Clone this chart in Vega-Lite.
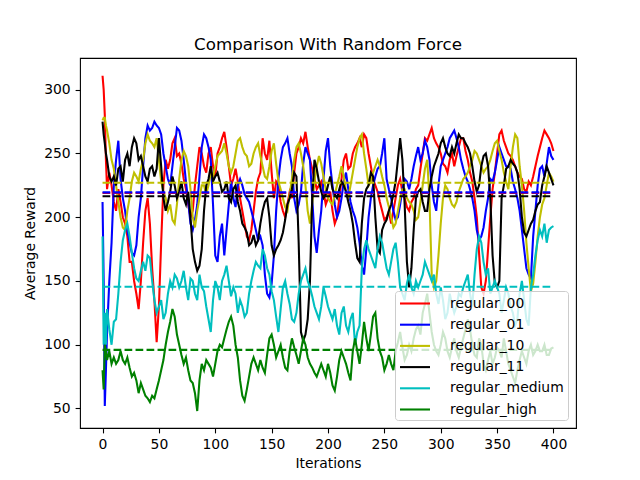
{
  "$schema": "https://vega.github.io/schema/vega-lite/v6.json",
  "width": 496,
  "height": 370,
  "autosize": {"type": "none"},
  "padding": {"left": 80, "top": 58, "right": 64, "bottom": 52},
  "background": "white",
  "title": {
    "text": "Comparison With Random Force",
    "font": "DejaVu Sans",
    "fontSize": 16.7,
    "fontWeight": "normal",
    "color": "black",
    "anchor": "middle",
    "baseline": "alphabetic",
    "offset": 8,
    "dy": 17
  },
  "config": {
    "font": "DejaVu Sans",
    "view": {"stroke": "black", "strokeWidth": 1.1},
    "axis": {
      "domain": false,
      "grid": false,
      "tickColor": "black",
      "tickSize": 4.9,
      "tickWidth": 1.1,
      "labelFont": "DejaVu Sans",
      "labelFontSize": 13.9,
      "labelColor": "black",
      "labelPadding": 4.9,
      "labelFlush": false,
      "labelOverlap": false,
      "titleFont": "DejaVu Sans",
      "titleFontSize": 13.9,
      "titleFontWeight": "normal",
      "titleColor": "black"
    }
  },
  "datasets": {
    "runs": [
      {"i": 0, "regular_00": 311, "regular_01": 212, "regular_10": 276, "regular_11": 275, "regular_medium": 185, "regular_high": 80},
      {"i": 1, "regular_00": 300, "regular_01": 150, "regular_10": 278, "regular_11": 265, "regular_medium": 100, "regular_high": 65},
      {"i": 2, "regular_00": 280, "regular_01": 52, "regular_10": 278, "regular_11": 258, "regular_medium": 125, "regular_high": 100},
      {"i": 3, "regular_00": 245, "regular_01": 80, "regular_10": 272, "regular_11": 250, "regular_medium": 100, "regular_high": 95},
      {"i": 4, "regular_00": 222, "regular_01": 110, "regular_10": 268, "regular_11": 245, "regular_medium": 128, "regular_high": 88},
      {"i": 6, "regular_00": 235, "regular_01": 150, "regular_10": 258, "regular_11": 232, "regular_medium": 112, "regular_high": 95},
      {"i": 8, "regular_00": 225, "regular_01": 180, "regular_10": 245, "regular_11": 228, "regular_medium": 100, "regular_high": 85},
      {"i": 10, "regular_00": 212, "regular_01": 225, "regular_10": 238, "regular_11": 232, "regular_medium": 118, "regular_high": 90},
      {"i": 12, "regular_00": 205, "regular_01": 245, "regular_10": 225, "regular_11": 225, "regular_medium": 120, "regular_high": 85},
      {"i": 14, "regular_00": 222, "regular_01": 260, "regular_10": 212, "regular_11": 238, "regular_medium": 140, "regular_high": 88},
      {"i": 16, "regular_00": 212, "regular_01": 230, "regular_10": 200, "regular_11": 240, "regular_medium": 165, "regular_high": 95},
      {"i": 18, "regular_00": 200, "regular_01": 215, "regular_10": 192, "regular_11": 228, "regular_medium": 182, "regular_high": 88},
      {"i": 20, "regular_00": 195, "regular_01": 205, "regular_10": 190, "regular_11": 245, "regular_medium": 190, "regular_high": 85},
      {"i": 22, "regular_00": 185, "regular_01": 190, "regular_10": 205, "regular_11": 250, "regular_medium": 195, "regular_high": 90},
      {"i": 24, "regular_00": 165, "regular_01": 180, "regular_10": 215, "regular_11": 240, "regular_medium": 185, "regular_high": 82},
      {"i": 26, "regular_00": 165, "regular_01": 172, "regular_10": 228, "regular_11": 255, "regular_medium": 172, "regular_high": 75},
      {"i": 28, "regular_00": 150, "regular_01": 170, "regular_10": 235, "regular_11": 262, "regular_medium": 160, "regular_high": 78},
      {"i": 30, "regular_00": 140, "regular_01": 178, "regular_10": 232, "regular_11": 258, "regular_medium": 152, "regular_high": 72},
      {"i": 32, "regular_00": 128, "regular_01": 200, "regular_10": 228, "regular_11": 245, "regular_medium": 150, "regular_high": 62},
      {"i": 34, "regular_00": 150, "regular_01": 215, "regular_10": 238, "regular_11": 248, "regular_medium": 158, "regular_high": 70},
      {"i": 36, "regular_00": 180, "regular_01": 240, "regular_10": 245, "regular_11": 240, "regular_medium": 165, "regular_high": 65},
      {"i": 38, "regular_00": 205, "regular_01": 262, "regular_10": 258, "regular_11": 232, "regular_medium": 158, "regular_high": 60},
      {"i": 40, "regular_00": 215, "regular_01": 272, "regular_10": 265, "regular_11": 228, "regular_medium": 170, "regular_high": 58},
      {"i": 42, "regular_00": 195, "regular_01": 268, "regular_10": 260, "regular_11": 238, "regular_medium": 168, "regular_high": 55},
      {"i": 44, "regular_00": 160, "regular_01": 270, "regular_10": 258, "regular_11": 240, "regular_medium": 150, "regular_high": 60},
      {"i": 46, "regular_00": 135, "regular_01": 275, "regular_10": 255, "regular_11": 232, "regular_medium": 135, "regular_high": 58},
      {"i": 48, "regular_00": 102, "regular_01": 272, "regular_10": 262, "regular_11": 238, "regular_medium": 125, "regular_high": 65},
      {"i": 50, "regular_00": 130, "regular_01": 270, "regular_10": 245, "regular_11": 262, "regular_medium": 130, "regular_high": 72},
      {"i": 52, "regular_00": 180, "regular_01": 265, "regular_10": 228, "regular_11": 240, "regular_medium": 135, "regular_high": 80},
      {"i": 54, "regular_00": 225, "regular_01": 250, "regular_10": 220, "regular_11": 215, "regular_medium": 120, "regular_high": 88},
      {"i": 56, "regular_00": 245, "regular_01": 240, "regular_10": 215, "regular_11": 205, "regular_medium": 125, "regular_high": 100},
      {"i": 58, "regular_00": 238, "regular_01": 230, "regular_10": 205, "regular_11": 212, "regular_medium": 140, "regular_high": 110},
      {"i": 60, "regular_00": 245, "regular_01": 225, "regular_10": 210, "regular_11": 220, "regular_medium": 150, "regular_high": 118},
      {"i": 62, "regular_00": 258, "regular_01": 240, "regular_10": 198, "regular_11": 232, "regular_medium": 145, "regular_high": 128},
      {"i": 64, "regular_00": 262, "regular_01": 255, "regular_10": 195, "regular_11": 225, "regular_medium": 155, "regular_high": 122},
      {"i": 66, "regular_00": 248, "regular_01": 270, "regular_10": 210, "regular_11": 215, "regular_medium": 152, "regular_high": 108},
      {"i": 68, "regular_00": 250, "regular_01": 268, "regular_10": 230, "regular_11": 220, "regular_medium": 145, "regular_high": 100},
      {"i": 70, "regular_00": 242, "regular_01": 260, "regular_10": 245, "regular_11": 228, "regular_medium": 150, "regular_high": 92},
      {"i": 72, "regular_00": 230, "regular_01": 245, "regular_10": 252, "regular_11": 215, "regular_medium": 158, "regular_high": 85},
      {"i": 74, "regular_00": 222, "regular_01": 228, "regular_10": 248, "regular_11": 210, "regular_medium": 145, "regular_high": 90},
      {"i": 76, "regular_00": 210, "regular_01": 212, "regular_10": 240, "regular_11": 220, "regular_medium": 135, "regular_high": 80},
      {"i": 78, "regular_00": 200, "regular_01": 195, "regular_10": 222, "regular_11": 200, "regular_medium": 152, "regular_high": 72},
      {"i": 80, "regular_00": 205, "regular_01": 190, "regular_10": 200, "regular_11": 175, "regular_medium": 150, "regular_high": 70},
      {"i": 82, "regular_00": 225, "regular_01": 198, "regular_10": 192, "regular_11": 165, "regular_medium": 140, "regular_high": 62},
      {"i": 84, "regular_00": 240, "regular_01": 210, "regular_10": 205, "regular_11": 158, "regular_medium": 135, "regular_high": 48},
      {"i": 86, "regular_00": 255, "regular_01": 232, "regular_10": 215, "regular_11": 162, "regular_medium": 155, "regular_high": 72},
      {"i": 88, "regular_00": 250, "regular_01": 255, "regular_10": 225, "regular_11": 175, "regular_medium": 145, "regular_high": 85},
      {"i": 90, "regular_00": 240, "regular_01": 265, "regular_10": 225, "regular_11": 205, "regular_medium": 142, "regular_high": 80},
      {"i": 92, "regular_00": 235, "regular_01": 262, "regular_10": 218, "regular_11": 225, "regular_medium": 130, "regular_high": 88},
      {"i": 94, "regular_00": 250, "regular_01": 255, "regular_10": 225, "regular_11": 230, "regular_medium": 120, "regular_high": 85},
      {"i": 96, "regular_00": 255, "regular_01": 245, "regular_10": 235, "regular_11": 240, "regular_medium": 110, "regular_high": 82},
      {"i": 98, "regular_00": 240, "regular_01": 210, "regular_10": 232, "regular_11": 228, "regular_medium": 135, "regular_high": 75},
      {"i": 100, "regular_00": 232, "regular_01": 170, "regular_10": 240, "regular_11": 232, "regular_medium": 150, "regular_high": 85},
      {"i": 102, "regular_00": 250, "regular_01": 165, "regular_10": 248, "regular_11": 235, "regular_medium": 145, "regular_high": 95},
      {"i": 104, "regular_00": 255, "regular_01": 185, "regular_10": 250, "regular_11": 228, "regular_medium": 135, "regular_high": 100},
      {"i": 106, "regular_00": 262, "regular_01": 195, "regular_10": 252, "regular_11": 220, "regular_medium": 150, "regular_high": 98},
      {"i": 108, "regular_00": 267, "regular_01": 170, "regular_10": 258, "regular_11": 222, "regular_medium": 155, "regular_high": 105},
      {"i": 110, "regular_00": 255, "regular_01": 190, "regular_10": 250, "regular_11": 228, "regular_medium": 162, "regular_high": 112},
      {"i": 112, "regular_00": 240, "regular_01": 210, "regular_10": 240, "regular_11": 215, "regular_medium": 150, "regular_high": 118},
      {"i": 114, "regular_00": 225, "regular_01": 228, "regular_10": 235, "regular_11": 212, "regular_medium": 138, "regular_high": 122},
      {"i": 116, "regular_00": 230, "regular_01": 215, "regular_10": 240, "regular_11": 222, "regular_medium": 145, "regular_high": 115},
      {"i": 118, "regular_00": 238, "regular_01": 208, "regular_10": 250, "regular_11": 225, "regular_medium": 140, "regular_high": 100},
      {"i": 120, "regular_00": 228, "regular_01": 225, "regular_10": 260, "regular_11": 212, "regular_medium": 125, "regular_high": 90},
      {"i": 122, "regular_00": 215, "regular_01": 230, "regular_10": 262, "regular_11": 205, "regular_medium": 135, "regular_high": 72},
      {"i": 124, "regular_00": 205, "regular_01": 225, "regular_10": 255, "regular_11": 195, "regular_medium": 130, "regular_high": 60},
      {"i": 126, "regular_00": 195, "regular_01": 218, "regular_10": 250, "regular_11": 192, "regular_medium": 122, "regular_high": 56},
      {"i": 128, "regular_00": 185, "regular_01": 215, "regular_10": 248, "regular_11": 188, "regular_medium": 125, "regular_high": 65},
      {"i": 130, "regular_00": 182, "regular_01": 212, "regular_10": 240, "regular_11": 178, "regular_medium": 140, "regular_high": 75},
      {"i": 132, "regular_00": 190, "regular_01": 205, "regular_10": 242, "regular_11": 180, "regular_medium": 150, "regular_high": 85},
      {"i": 134, "regular_00": 205, "regular_01": 198, "regular_10": 250, "regular_11": 186, "regular_medium": 158, "regular_high": 90},
      {"i": 136, "regular_00": 220, "regular_01": 190, "regular_10": 255, "regular_11": 178, "regular_medium": 165, "regular_high": 85},
      {"i": 138, "regular_00": 230, "regular_01": 182, "regular_10": 258, "regular_11": 182, "regular_medium": 162, "regular_high": 80},
      {"i": 140, "regular_00": 235, "regular_01": 185, "regular_10": 248, "regular_11": 195, "regular_medium": 160, "regular_high": 88},
      {"i": 142, "regular_00": 262, "regular_01": 178, "regular_10": 240, "regular_11": 205, "regular_medium": 175, "regular_high": 82},
      {"i": 144, "regular_00": 250, "regular_01": 155, "regular_10": 232, "regular_11": 212, "regular_medium": 170, "regular_high": 78},
      {"i": 146, "regular_00": 245, "regular_01": 140, "regular_10": 230, "regular_11": 215, "regular_medium": 160, "regular_high": 92},
      {"i": 148, "regular_00": 260, "regular_01": 137, "regular_10": 240, "regular_11": 200, "regular_medium": 155, "regular_high": 105},
      {"i": 150, "regular_00": 235, "regular_01": 148, "regular_10": 252, "regular_11": 178, "regular_medium": 142, "regular_high": 108},
      {"i": 152, "regular_00": 215, "regular_01": 170, "regular_10": 258, "regular_11": 170, "regular_medium": 135, "regular_high": 100},
      {"i": 154, "regular_00": 228, "regular_01": 205, "regular_10": 242, "regular_11": 175, "regular_medium": 122, "regular_high": 90},
      {"i": 156, "regular_00": 225, "regular_01": 230, "regular_10": 228, "regular_11": 178, "regular_medium": 110, "regular_high": 95},
      {"i": 158, "regular_00": 212, "regular_01": 245, "regular_10": 222, "regular_11": 182, "regular_medium": 128, "regular_high": 100},
      {"i": 160, "regular_00": 205, "regular_01": 255, "regular_10": 215, "regular_11": 188, "regular_medium": 145, "regular_high": 90},
      {"i": 162, "regular_00": 200, "regular_01": 258, "regular_10": 208, "regular_11": 198, "regular_medium": 150, "regular_high": 82},
      {"i": 164, "regular_00": 210, "regular_01": 262, "regular_10": 205, "regular_11": 210, "regular_medium": 140, "regular_high": 80},
      {"i": 166, "regular_00": 220, "regular_01": 250, "regular_10": 218, "regular_11": 215, "regular_medium": 132, "regular_high": 95},
      {"i": 168, "regular_00": 215, "regular_01": 240, "regular_10": 230, "regular_11": 222, "regular_medium": 120, "regular_high": 105},
      {"i": 170, "regular_00": 235, "regular_01": 215, "regular_10": 245, "regular_11": 235, "regular_medium": 118, "regular_high": 98},
      {"i": 172, "regular_00": 250, "regular_01": 205, "regular_10": 255, "regular_11": 232, "regular_medium": 125, "regular_high": 92},
      {"i": 174, "regular_00": 255, "regular_01": 210, "regular_10": 258, "regular_11": 180, "regular_medium": 140, "regular_high": 85},
      {"i": 176, "regular_00": 262, "regular_01": 220, "regular_10": 250, "regular_11": 110, "regular_medium": 150, "regular_high": 95},
      {"i": 178, "regular_00": 258, "regular_01": 242, "regular_10": 240, "regular_11": 103, "regular_medium": 155, "regular_high": 105},
      {"i": 180, "regular_00": 267, "regular_01": 255, "regular_10": 225, "regular_11": 108, "regular_medium": 160, "regular_high": 100},
      {"i": 182, "regular_00": 255, "regular_01": 250, "regular_10": 205, "regular_11": 120, "regular_medium": 150, "regular_high": 90},
      {"i": 184, "regular_00": 245, "regular_01": 245, "regular_10": 195, "regular_11": 150, "regular_medium": 145, "regular_high": 85},
      {"i": 186, "regular_00": 238, "regular_01": 215, "regular_10": 210, "regular_11": 215, "regular_medium": 138, "regular_high": 82},
      {"i": 188, "regular_00": 230, "regular_01": 185, "regular_10": 228, "regular_11": 245, "regular_medium": 130, "regular_high": 78},
      {"i": 190, "regular_00": 222, "regular_01": 172, "regular_10": 240, "regular_11": 238, "regular_medium": 125, "regular_high": 75},
      {"i": 192, "regular_00": 225, "regular_01": 190, "regular_10": 248, "regular_11": 228, "regular_medium": 120, "regular_high": 80},
      {"i": 194, "regular_00": 228, "regular_01": 205, "regular_10": 242, "regular_11": 220, "regular_medium": 130, "regular_high": 85},
      {"i": 196, "regular_00": 220, "regular_01": 230, "regular_10": 232, "regular_11": 215, "regular_medium": 145, "regular_high": 80},
      {"i": 198, "regular_00": 210, "regular_01": 252, "regular_10": 222, "regular_11": 218, "regular_medium": 138, "regular_high": 75},
      {"i": 200, "regular_00": 215, "regular_01": 262, "regular_10": 215, "regular_11": 225, "regular_medium": 130, "regular_high": 85},
      {"i": 202, "regular_00": 220, "regular_01": 240, "regular_10": 212, "regular_11": 232, "regular_medium": 125, "regular_high": 78},
      {"i": 204, "regular_00": 205, "regular_01": 225, "regular_10": 210, "regular_11": 222, "regular_medium": 120, "regular_high": 68},
      {"i": 206, "regular_00": 195, "regular_01": 210, "regular_10": 218, "regular_11": 218, "regular_medium": 128, "regular_high": 64},
      {"i": 208, "regular_00": 200, "regular_01": 200, "regular_10": 225, "regular_11": 215, "regular_medium": 115, "regular_high": 75},
      {"i": 210, "regular_00": 215, "regular_01": 205, "regular_10": 232, "regular_11": 222, "regular_medium": 108, "regular_high": 88},
      {"i": 212, "regular_00": 230, "regular_01": 215, "regular_10": 240, "regular_11": 228, "regular_medium": 125, "regular_high": 95},
      {"i": 214, "regular_00": 245, "regular_01": 228, "regular_10": 232, "regular_11": 225, "regular_medium": 130, "regular_high": 90},
      {"i": 216, "regular_00": 250, "regular_01": 235, "regular_10": 220, "regular_11": 220, "regular_medium": 115, "regular_high": 85},
      {"i": 218, "regular_00": 238, "regular_01": 222, "regular_10": 215, "regular_11": 212, "regular_medium": 110, "regular_high": 78},
      {"i": 220, "regular_00": 240, "regular_01": 212, "regular_10": 225, "regular_11": 205, "regular_medium": 120, "regular_high": 72},
      {"i": 222, "regular_00": 250, "regular_01": 205, "regular_10": 235, "regular_11": 195, "regular_medium": 125, "regular_high": 95},
      {"i": 224, "regular_00": 255, "regular_01": 200, "regular_10": 245, "regular_11": 180, "regular_medium": 100, "regular_high": 105},
      {"i": 226, "regular_00": 258, "regular_01": 192, "regular_10": 255, "regular_11": 168, "regular_medium": 110, "regular_high": 95},
      {"i": 228, "regular_00": 262, "regular_01": 180, "regular_10": 262, "regular_11": 165, "regular_medium": 115, "regular_high": 85},
      {"i": 230, "regular_00": 255, "regular_01": 162, "regular_10": 265, "regular_11": 195, "regular_medium": 160, "regular_high": 100},
      {"i": 232, "regular_00": 265, "regular_01": 155, "regular_10": 250, "regular_11": 215, "regular_medium": 175, "regular_high": 118},
      {"i": 234, "regular_00": 262, "regular_01": 175, "regular_10": 238, "regular_11": 222, "regular_medium": 182, "regular_high": 105},
      {"i": 236, "regular_00": 250, "regular_01": 200, "regular_10": 225, "regular_11": 225, "regular_medium": 175, "regular_high": 95},
      {"i": 238, "regular_00": 240, "regular_01": 215, "regular_10": 228, "regular_11": 235, "regular_medium": 170, "regular_high": 108},
      {"i": 240, "regular_00": 230, "regular_01": 225, "regular_10": 235, "regular_11": 232, "regular_medium": 165, "regular_high": 122},
      {"i": 242, "regular_00": 225, "regular_01": 232, "regular_10": 240, "regular_11": 200, "regular_medium": 160, "regular_high": 125},
      {"i": 244, "regular_00": 220, "regular_01": 238, "regular_10": 245, "regular_11": 175, "regular_medium": 175, "regular_high": 105},
      {"i": 246, "regular_00": 212, "regular_01": 240, "regular_10": 240, "regular_11": 172, "regular_medium": 185, "regular_high": 95},
      {"i": 248, "regular_00": 205, "regular_01": 250, "regular_10": 232, "regular_11": 190, "regular_medium": 180, "regular_high": 90},
      {"i": 250, "regular_00": 198, "regular_01": 262, "regular_10": 225, "regular_11": 195, "regular_medium": 170, "regular_high": 80},
      {"i": 252, "regular_00": 200, "regular_01": 230, "regular_10": 215, "regular_11": 198, "regular_medium": 160, "regular_high": 85},
      {"i": 254, "regular_00": 205, "regular_01": 222, "regular_10": 208, "regular_11": 205, "regular_medium": 155, "regular_high": 92},
      {"i": 256, "regular_00": 195, "regular_01": 215, "regular_10": 200, "regular_11": 210, "regular_medium": 165, "regular_high": 85},
      {"i": 258, "regular_00": 205, "regular_01": 205, "regular_10": 192, "regular_11": 218, "regular_medium": 175, "regular_high": 80},
      {"i": 260, "regular_00": 215, "regular_01": 198, "regular_10": 195, "regular_11": 228, "regular_medium": 180, "regular_high": 95},
      {"i": 262, "regular_00": 225, "regular_01": 200, "regular_10": 205, "regular_11": 245, "regular_medium": 165, "regular_high": 102},
      {"i": 264, "regular_00": 230, "regular_01": 210, "regular_10": 215, "regular_11": 262, "regular_medium": 145, "regular_high": 110},
      {"i": 266, "regular_00": 220, "regular_01": 222, "regular_10": 222, "regular_11": 245, "regular_medium": 140, "regular_high": 98},
      {"i": 268, "regular_00": 215, "regular_01": 230, "regular_10": 222, "regular_11": 210, "regular_medium": 135, "regular_high": 88},
      {"i": 270, "regular_00": 208, "regular_01": 228, "regular_10": 215, "regular_11": 165, "regular_medium": 148, "regular_high": 92},
      {"i": 272, "regular_00": 205, "regular_01": 222, "regular_10": 212, "regular_11": 145, "regular_medium": 155, "regular_high": 100},
      {"i": 274, "regular_00": 212, "regular_01": 230, "regular_10": 210, "regular_11": 160, "regular_medium": 145, "regular_high": 95},
      {"i": 276, "regular_00": 215, "regular_01": 240, "regular_10": 205, "regular_11": 190, "regular_medium": 140, "regular_high": 105},
      {"i": 278, "regular_00": 222, "regular_01": 248, "regular_10": 198, "regular_11": 215, "regular_medium": 150, "regular_high": 112},
      {"i": 280, "regular_00": 225, "regular_01": 255, "regular_10": 200, "regular_11": 220, "regular_medium": 145, "regular_high": 115},
      {"i": 282, "regular_00": 238, "regular_01": 245, "regular_10": 212, "regular_11": 222, "regular_medium": 150, "regular_high": 108},
      {"i": 284, "regular_00": 250, "regular_01": 250, "regular_10": 225, "regular_11": 212, "regular_medium": 155, "regular_high": 125},
      {"i": 286, "regular_00": 262, "regular_01": 260, "regular_10": 238, "regular_11": 205, "regular_medium": 165, "regular_high": 132},
      {"i": 288, "regular_00": 260, "regular_01": 255, "regular_10": 245, "regular_11": 205, "regular_medium": 160, "regular_high": 140},
      {"i": 290, "regular_00": 265, "regular_01": 245, "regular_10": 215, "regular_11": 222, "regular_medium": 155, "regular_high": 125},
      {"i": 292, "regular_00": 270, "regular_01": 225, "regular_10": 155, "regular_11": 232, "regular_medium": 150, "regular_high": 110},
      {"i": 294, "regular_00": 262, "regular_01": 212, "regular_10": 145, "regular_11": 240, "regular_medium": 155, "regular_high": 100},
      {"i": 296, "regular_00": 258, "regular_01": 205, "regular_10": 150, "regular_11": 245, "regular_medium": 140, "regular_high": 95},
      {"i": 298, "regular_00": 255, "regular_01": 225, "regular_10": 170, "regular_11": 250, "regular_medium": 132, "regular_high": 92},
      {"i": 300, "regular_00": 250, "regular_01": 240, "regular_10": 195, "regular_11": 258, "regular_medium": 145, "regular_high": 100},
      {"i": 302, "regular_00": 242, "regular_01": 245, "regular_10": 215, "regular_11": 262, "regular_medium": 135, "regular_high": 110},
      {"i": 304, "regular_00": 240, "regular_01": 250, "regular_10": 225, "regular_11": 255, "regular_medium": 120, "regular_high": 105},
      {"i": 306, "regular_00": 235, "regular_01": 255, "regular_10": 222, "regular_11": 250, "regular_medium": 125, "regular_high": 95},
      {"i": 308, "regular_00": 245, "regular_01": 262, "regular_10": 215, "regular_11": 248, "regular_medium": 140, "regular_high": 90},
      {"i": 310, "regular_00": 250, "regular_01": 265, "regular_10": 210, "regular_11": 255, "regular_medium": 132, "regular_high": 98},
      {"i": 312, "regular_00": 240, "regular_01": 268, "regular_10": 208, "regular_11": 250, "regular_medium": 125, "regular_high": 105},
      {"i": 314, "regular_00": 248, "regular_01": 262, "regular_10": 212, "regular_11": 258, "regular_medium": 130, "regular_high": 95},
      {"i": 316, "regular_00": 255, "regular_01": 255, "regular_10": 220, "regular_11": 265, "regular_medium": 140, "regular_high": 90},
      {"i": 318, "regular_00": 262, "regular_01": 245, "regular_10": 225, "regular_11": 262, "regular_medium": 138, "regular_high": 98},
      {"i": 320, "regular_00": 262, "regular_01": 238, "regular_10": 230, "regular_11": 262, "regular_medium": 145, "regular_high": 105},
      {"i": 322, "regular_00": 252, "regular_01": 232, "regular_10": 232, "regular_11": 258, "regular_medium": 150, "regular_high": 112},
      {"i": 324, "regular_00": 245, "regular_01": 228, "regular_10": 235, "regular_11": 255, "regular_medium": 155, "regular_high": 120},
      {"i": 326, "regular_00": 235, "regular_01": 222, "regular_10": 240, "regular_11": 250, "regular_medium": 140, "regular_high": 112},
      {"i": 328, "regular_00": 228, "regular_01": 215, "regular_10": 245, "regular_11": 240, "regular_medium": 130, "regular_high": 100},
      {"i": 330, "regular_00": 215, "regular_01": 205, "regular_10": 252, "regular_11": 228, "regular_medium": 155, "regular_high": 92},
      {"i": 332, "regular_00": 200, "regular_01": 190, "regular_10": 250, "regular_11": 220, "regular_medium": 175, "regular_high": 90},
      {"i": 334, "regular_00": 172, "regular_01": 182, "regular_10": 245, "regular_11": 225, "regular_medium": 185, "regular_high": 105},
      {"i": 336, "regular_00": 145, "regular_01": 185, "regular_10": 240, "regular_11": 240, "regular_medium": 180, "regular_high": 100},
      {"i": 338, "regular_00": 140, "regular_01": 192, "regular_10": 235, "regular_11": 248, "regular_medium": 165, "regular_high": 85},
      {"i": 340, "regular_00": 150, "regular_01": 205, "regular_10": 238, "regular_11": 250, "regular_medium": 155, "regular_high": 80},
      {"i": 342, "regular_00": 175, "regular_01": 215, "regular_10": 240, "regular_11": 240, "regular_medium": 160, "regular_high": 88},
      {"i": 344, "regular_00": 200, "regular_01": 230, "regular_10": 245, "regular_11": 215, "regular_medium": 140, "regular_high": 95},
      {"i": 346, "regular_00": 222, "regular_01": 228, "regular_10": 252, "regular_11": 170, "regular_medium": 145, "regular_high": 85},
      {"i": 348, "regular_00": 235, "regular_01": 235, "regular_10": 258, "regular_11": 148, "regular_medium": 150, "regular_high": 90},
      {"i": 350, "regular_00": 250, "regular_01": 245, "regular_10": 260, "regular_11": 145, "regular_medium": 145, "regular_high": 98},
      {"i": 352, "regular_00": 265, "regular_01": 255, "regular_10": 252, "regular_11": 150, "regular_medium": 140, "regular_high": 95},
      {"i": 354, "regular_00": 268, "regular_01": 250, "regular_10": 245, "regular_11": 215, "regular_medium": 125, "regular_high": 90},
      {"i": 356, "regular_00": 260, "regular_01": 245, "regular_10": 235, "regular_11": 225, "regular_medium": 135, "regular_high": 105},
      {"i": 358, "regular_00": 255, "regular_01": 240, "regular_10": 228, "regular_11": 238, "regular_medium": 145, "regular_high": 95},
      {"i": 360, "regular_00": 250, "regular_01": 240, "regular_10": 222, "regular_11": 240, "regular_medium": 140, "regular_high": 85},
      {"i": 362, "regular_00": 248, "regular_01": 238, "regular_10": 240, "regular_11": 245, "regular_medium": 130, "regular_high": 80},
      {"i": 364, "regular_00": 245, "regular_01": 228, "regular_10": 255, "regular_11": 242, "regular_medium": 125, "regular_high": 75},
      {"i": 366, "regular_00": 240, "regular_01": 222, "regular_10": 265, "regular_11": 240, "regular_medium": 115, "regular_high": 70},
      {"i": 368, "regular_00": 235, "regular_01": 215, "regular_10": 262, "regular_11": 235, "regular_medium": 120, "regular_high": 80},
      {"i": 370, "regular_00": 232, "regular_01": 205, "regular_10": 240, "regular_11": 222, "regular_medium": 140, "regular_high": 88},
      {"i": 372, "regular_00": 230, "regular_01": 190, "regular_10": 225, "regular_11": 200, "regular_medium": 150, "regular_high": 95},
      {"i": 374, "regular_00": 222, "regular_01": 175, "regular_10": 205, "regular_11": 188, "regular_medium": 135, "regular_high": 90},
      {"i": 376, "regular_00": 220, "regular_01": 160, "regular_10": 180, "regular_11": 185, "regular_medium": 120, "regular_high": 85},
      {"i": 378, "regular_00": 228, "regular_01": 155, "regular_10": 160, "regular_11": 190, "regular_medium": 115, "regular_high": 95},
      {"i": 380, "regular_00": 225, "regular_01": 152, "regular_10": 142, "regular_11": 195, "regular_medium": 145, "regular_high": 100},
      {"i": 382, "regular_00": 232, "regular_01": 185, "regular_10": 148, "regular_11": 198, "regular_medium": 155, "regular_high": 92},
      {"i": 384, "regular_00": 240, "regular_01": 205, "regular_10": 165, "regular_11": 205, "regular_medium": 170, "regular_high": 95},
      {"i": 386, "regular_00": 248, "regular_01": 225, "regular_10": 185, "regular_11": 210, "regular_medium": 182, "regular_high": 100},
      {"i": 388, "regular_00": 255, "regular_01": 238, "regular_10": 200, "regular_11": 212, "regular_medium": 190, "regular_high": 95},
      {"i": 390, "regular_00": 262, "regular_01": 240, "regular_10": 210, "regular_11": 225, "regular_medium": 185, "regular_high": 95},
      {"i": 392, "regular_00": 268, "regular_01": 232, "regular_10": 215, "regular_11": 232, "regular_medium": 195, "regular_high": 100},
      {"i": 394, "regular_00": 265, "regular_01": 242, "regular_10": 225, "regular_11": 240, "regular_medium": 180, "regular_high": 92},
      {"i": 396, "regular_00": 262, "regular_01": 255, "regular_10": 235, "regular_11": 235, "regular_medium": 190, "regular_high": 92},
      {"i": 398, "regular_00": 258, "regular_01": 248, "regular_10": 232, "regular_11": 230, "regular_medium": 192, "regular_high": 97},
      {"i": 400, "regular_00": 252, "regular_01": 245, "regular_10": 228, "regular_11": 225, "regular_medium": 193, "regular_high": 98}
    ],
    "means": [
      {"s": "regular_00", "m": 219.0},
      {"s": "regular_01", "m": 219.5},
      {"s": "regular_10", "m": 227.0},
      {"s": "regular_11", "m": 216.5},
      {"s": "regular_medium", "m": 145.5},
      {"s": "regular_high", "m": 96.0}
    ]
  },
  "resolve": {"scale": {"color": "independent"}, "legend": {"color": "independent"}},
  "layer": [
    {
      "data": {"name": "runs"},
      "transform": [
        {"fold": ["regular_00", "regular_01", "regular_10", "regular_11", "regular_medium", "regular_high"], "as": ["s", "v"]}
      ],
      "mark": {"type": "line", "strokeWidth": 2.08, "clip": true},
      "encoding": {
        "x": {
          "field": "i",
          "type": "quantitative",
          "scale": {"domain": [-20, 420], "nice": false, "zero": false},
          "axis": {"values": [0, 50, 100, 150, 200, 250, 300, 350, 400], "title": "Iterations", "titlePadding": 5}
        },
        "y": {
          "field": "v",
          "type": "quantitative",
          "scale": {"domain": [34.7, 324.9], "nice": false, "zero": false},
          "axis": {"values": [50, 100, 150, 200, 250, 300], "title": "Average Reward", "titlePadding": 6}
        },
        "color": {
          "field": "s",
          "type": "nominal",
          "scale": {
            "domain": ["regular_00", "regular_01", "regular_10", "regular_11", "regular_medium", "regular_high"],
            "range": ["#ff0000", "#0000ff", "#bfbf00", "#000000", "#00bfbf", "#008000"]
          },
          "sort": null,
          "legend": {
            "title": null,
            "orient": "bottom-right",
            "offset": 8,
            "symbolType": "M-2,0H2",
            "symbolSize": 225,
            "symbolStrokeWidth": 2.08,
            "symbolOffset": 7.5,
            "labelFont": "DejaVu Sans",
            "labelFontSize": 13.9,
            "labelColor": "black",
            "labelOffset": 26,
            "rowPadding": 5.2,
            "padding": 3.5,
            "fillColor": "rgba(255,255,255,0.8)",
            "strokeColor": "#cccccc",
            "cornerRadius": 3
          }
        }
      }
    },
    {
      "data": {"name": "means"},
      "mark": {"type": "rule", "strokeWidth": 2.08, "strokeDash": [7.7, 3.3]},
      "encoding": {
        "x": {"datum": 0},
        "x2": {"datum": 400},
        "y": {"field": "m", "type": "quantitative"},
        "color": {
          "field": "s",
          "type": "nominal",
          "scale": {
            "domain": ["regular_00", "regular_01", "regular_10", "regular_11", "regular_medium", "regular_high"],
            "range": ["#ff0000", "#0000ff", "#bfbf00", "#000000", "#00bfbf", "#008000"]
          },
          "legend": null
        }
      }
    }
  ]
}
